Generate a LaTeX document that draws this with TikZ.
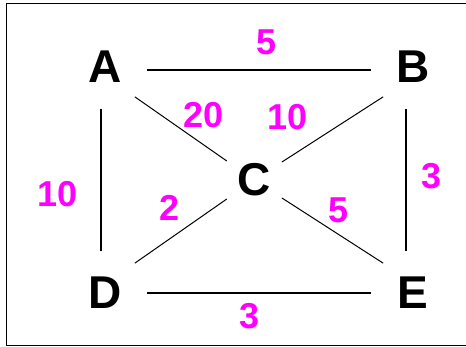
\documentclass[tikz,border=0pt]{standalone}
\usepackage{fontspec}
\setmainfont{Liberation Sans}
\usepackage{tikz}
\usetikzlibrary{shapes,positioning}
\definecolor{wtpink}{RGB}{255,0,255}

\begin{document}
\begin{tikzpicture}[
    x=1pt, y=-1pt,
    vertex/.style={circle, inner sep=0pt, minimum size=84pt, font=\fontsize{46}{46}\selectfont\bfseries},
    hub/.style={vertex, minimum size=66pt},
    wt/.style={inner sep=0pt, text=wtpink, font=\fontsize{36}{36}\selectfont\bfseries},
    edge/.style={draw, line width=1.5pt},
    diag/.style={draw, line width=1pt}
]
    \useasboundingbox (0,0) rectangle (466,347);
    \clip (0,0) rectangle (466,347);
    \draw [line width=1.5pt] (6.7,3.3) rectangle (480,345.7);

    \node [vertex] (A) at (105,67) {A};
    \node [vertex] (B) at (413,67) {B};
    \node [hub] (C) at (254,180) {C};
    \node [vertex] (D) at (105,293) {D};
    \node [vertex] (E) at (413,293) {E};

    \draw [edge] ([yshift=-3pt]A.east) -- ([yshift=-3pt]B.west);
    \draw [edge] ([xshift=-4pt]A.south) -- ([xshift=-4pt]D.north);
    \draw [edge] ([xshift=-7pt]B.south) -- ([xshift=-7pt]E.north);
    \draw [edge] (D.east) -- (E.west);
    \draw [diag] (A.south east) -- (C);
    \draw [diag] (B.south west) -- (C);
    \draw [diag] (C) -- (D.north east);
    \draw [diag] (C) -- (E.north west);

    \node [wt] (ab) at (266.5,42) {5};
    \node [wt] (ac) at (204,115) {20};
    \node [wt] (bc) at (288,117.5) {10};
    \node [wt] (ad) at (58,194) {10};
    \node [wt] (cd) at (170,208) {2};
    \node [wt] (be) at (432,176) {3};
    \node [wt] (ce) at (338.5,210) {5};
    \node [wt] (de) at (250,316) {3};
\end{tikzpicture}
\end{document}
